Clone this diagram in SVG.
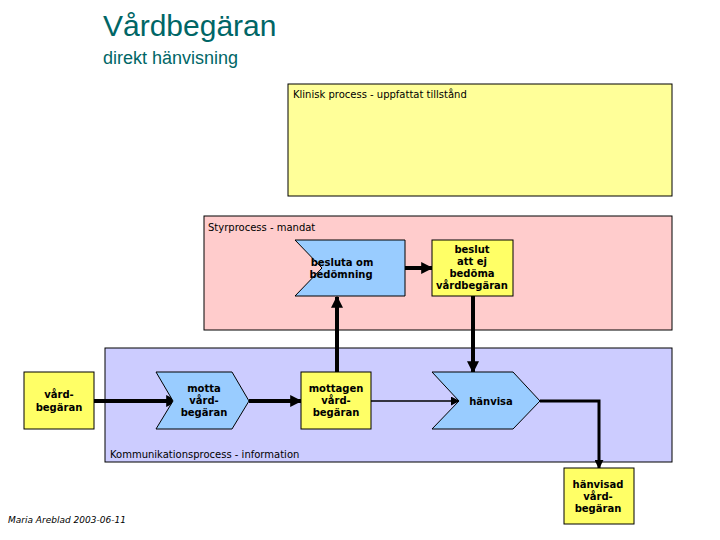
<svg xmlns="http://www.w3.org/2000/svg" width="720" height="540" viewBox="0 0 720 540">
<defs>
<style>
.t{font-family:Verdana,"DejaVu Sans",sans-serif;font-size:10px;fill:#000}
.b{font-family:Verdana,"DejaVu Sans",sans-serif;font-size:10px;font-weight:bold;fill:#000;text-anchor:middle}
.bx{stroke:#000;stroke-width:1}
.ln{stroke:#000;fill:none}
</style>
<marker id="ah" viewBox="0 0 10 10" refX="9" refY="5" markerWidth="3" markerHeight="3" orient="auto"><path d="M0,0L10,5L0,10z" fill="#000"/></marker>
<marker id="as" viewBox="0 0 10 10" refX="9" refY="5" markerWidth="6" markerHeight="6" orient="auto"><path d="M0,0L10,5L0,10z" fill="#000"/></marker>
</defs>
<rect width="720" height="540" fill="#fff"/>
<text x="103" y="36" font-family="'Liberation Sans',Arial,sans-serif" font-size="30" fill="#006666">Vårdbegäran</text>
<text x="103" y="64" font-family="'Liberation Sans',Arial,sans-serif" font-size="18" fill="#006666">direkt hänvisning</text>
<g id="klinisk"><rect x="288" y="84" width="384" height="112" fill="#ffff99" class="bx"/><text x="293" y="98" class="t">Klinisk process - uppfattat tillstånd</text></g>
<g id="styr"><rect x="204" y="216" width="468" height="114" fill="#ffcccc" class="bx"/><text x="208" y="231" class="t">Styrprocess - mandat</text></g>
<g id="komm"><rect x="105" y="348" width="567" height="114" fill="#ccccff" class="bx"/><text x="110" y="458" class="t">Kommunikationsprocess - information</text></g>
<g id="connectors">
<line x1="94" y1="401" x2="177" y2="401" class="ln" stroke-width="4" marker-end="url(#ah)"/>
<line x1="249" y1="401" x2="301" y2="401" class="ln" stroke-width="4" marker-end="url(#ah)"/>
<line x1="337" y1="372" x2="337" y2="297" class="ln" stroke-width="4" marker-end="url(#ah)"/>
<line x1="405" y1="268" x2="432" y2="268" class="ln" stroke-width="4" marker-end="url(#ah)"/>
<line x1="473" y1="296" x2="473" y2="372" class="ln" stroke-width="4" marker-end="url(#ah)"/>
<line x1="371" y1="401" x2="459" y2="401" class="ln" stroke-width="1.5" marker-end="url(#as)"/>
<polyline points="540,401 599,401 599,468" class="ln" stroke-width="3" marker-end="url(#ah)"/>
</g>
<g id="vardbegaran"><rect x="24" y="372" width="70" height="57" fill="#ffff66" class="bx"/><text class="b" x="59" y="398">vård-</text><text class="b" x="59" y="411">begäran</text></g>
<g id="motta"><polygon points="156,372 232,372 249,401 232,429 156,429 173,401" fill="#99ccff" class="bx"/><text class="b" x="204" y="392">motta</text><text class="b" x="204" y="404">vård-</text><text class="b" x="204" y="416">begäran</text></g>
<g id="mottagen"><rect x="301" y="372" width="70" height="57" fill="#ffff66" class="bx"/><text class="b" x="336" y="392">mottagen</text><text class="b" x="336" y="404">vård-</text><text class="b" x="336" y="416">begäran</text></g>
<g id="besluta"><polygon points="295,240 405,240 405,240 405,296 295,296 322,268" fill="#99ccff" class="bx"/><polygon points="405,240 405,296 405,268" fill="none"/><text class="b" x="342" y="266">besluta om</text><text class="b" x="341" y="278">bedömning</text></g>
<g id="beslut"><rect x="432" y="240" width="81" height="56" fill="#ffff66" class="bx"/><text class="b" x="472" y="253">beslut</text><text class="b" x="472" y="265">att ej</text><text class="b" x="472" y="277">bedöma</text><text class="b" x="472" y="289">vårdbegäran</text></g>
<g id="hanvisa"><polygon points="432,372 513,372 540,401 513,429 432,429 459,401" fill="#99ccff" class="bx"/><text class="b" x="491" y="405">hänvisa</text></g>
<g id="hanvisad"><rect x="564" y="468" width="70" height="56" fill="#ffff66" class="bx"/><text class="b" x="598" y="488">hänvisad</text><text class="b" x="598" y="500">vård-</text><text class="b" x="598" y="512">begäran</text></g>
<text x="8" y="523" font-family="Verdana,'DejaVu Sans',sans-serif" font-size="9" font-style="italic">Maria Areblad 2003-06-11</text>
</svg>
